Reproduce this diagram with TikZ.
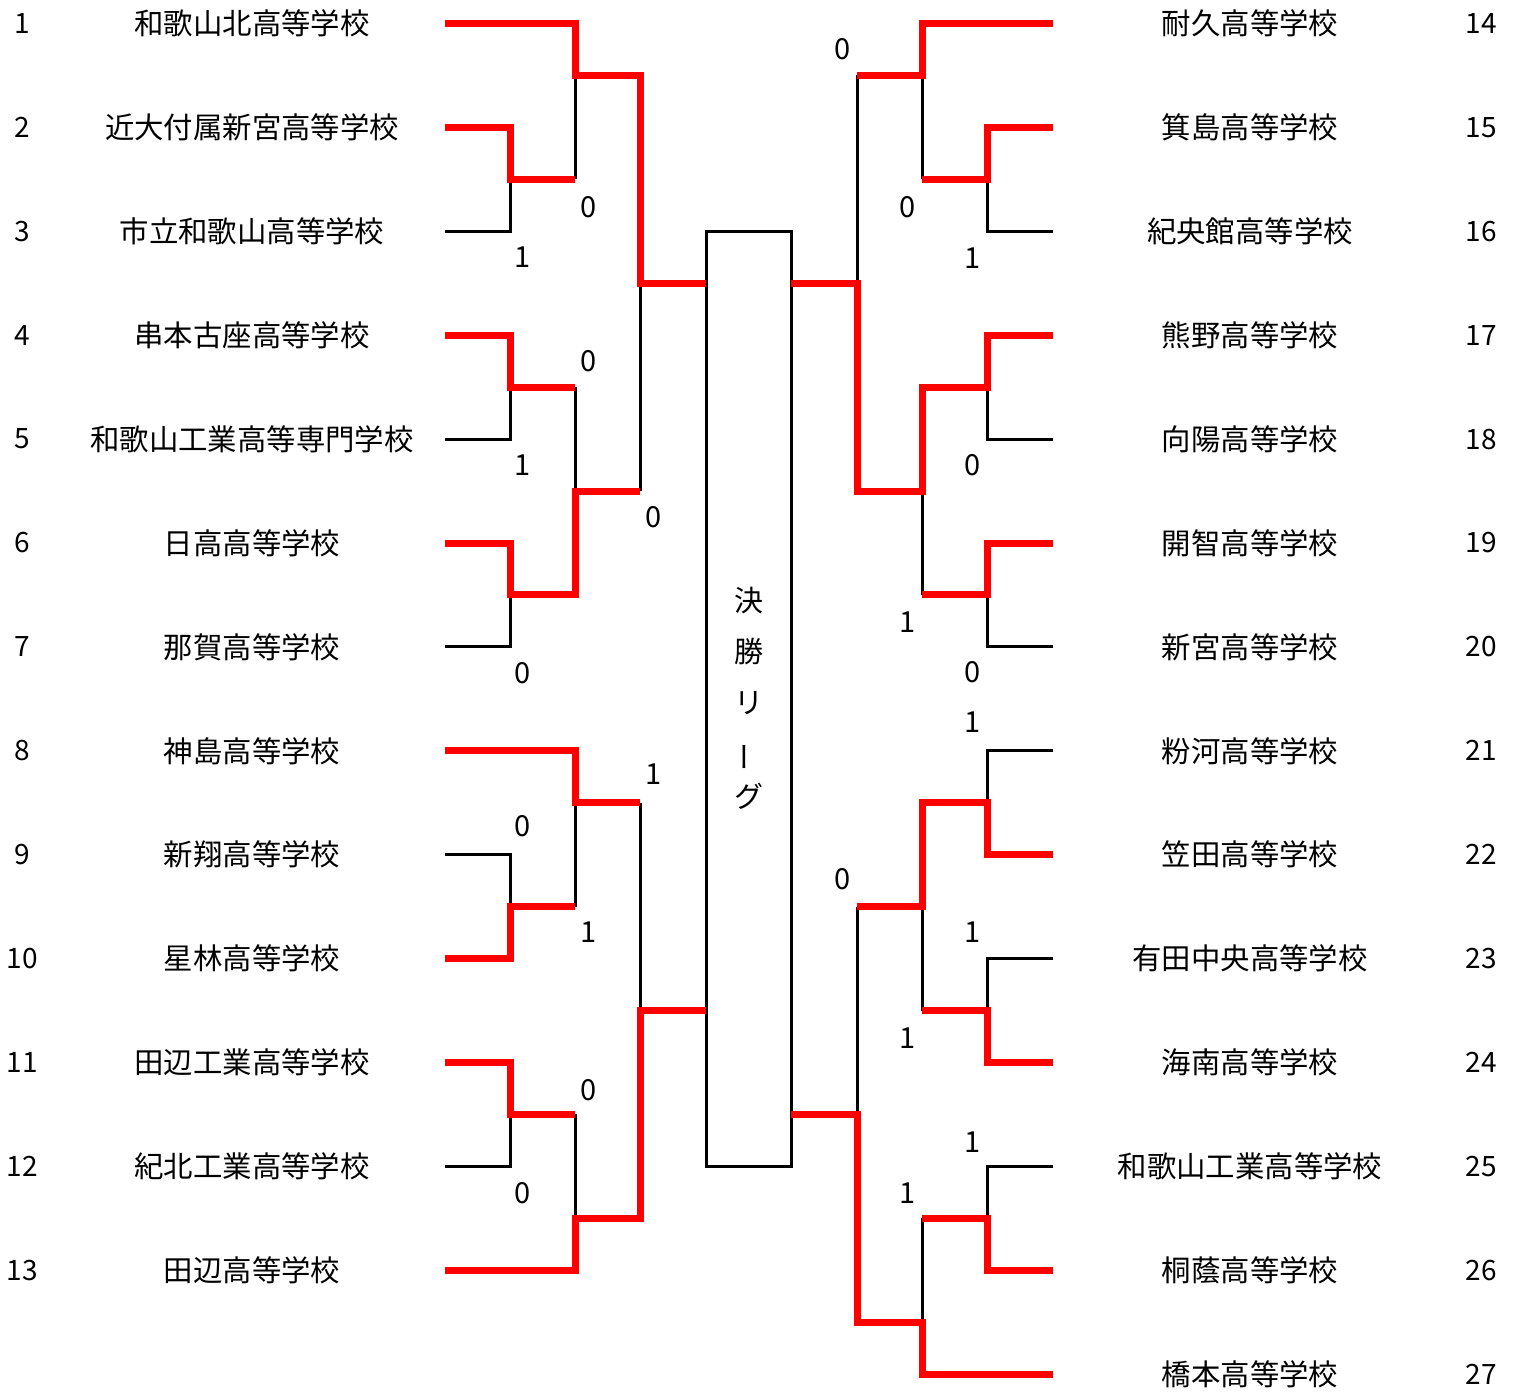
\documentclass[tikz,border=0pt]{standalone}
\usepackage{fontspec}
\setmainfont{Noto Sans CJK JP}
\begin{document}
\begin{tikzpicture}[x=1pt,y=-51.95pt,
  win/.style={draw=red, line width=7pt},
  lose/.style={draw=black, line width=3pt},
  team/.style={font=\fontsize{29.4}{30}\selectfont, inner sep=0pt},
  num/.style={font=\fontsize{28}{30}\selectfont, inner sep=0pt},
  score/.style={font=\fontsize{29}{30}\selectfont, inner sep=0pt},
  vt/.style={font=\fontsize{29}{30}\selectfont, inner sep=0pt}]
\useasboundingbox (0,-0.4524) rectangle (1514,26.3234);

% teams left
\foreach \i/\k/\nm in {1/0/和歌山北高等学校, 2/2/近大付属新宮高等学校, 3/4/市立和歌山高等学校,
  4/6/串本古座高等学校, 5/8/和歌山工業高等専門学校, 6/10/日高高等学校, 7/12/那賀高等学校,
  8/14/神島高等学校, 9/16/新翔高等学校, 10/18/星林高等学校, 11/20/田辺工業高等学校,
  12/22/紀北工業高等学校, 13/24/田辺高等学校}{
  \node[team] (n\i) at (252,\k) {\nm};
  \node[num] (s\i) at (22,\k) {\i};
  \coordinate (t\i) at (445,\k);
}
% teams right
\foreach \i/\k/\nm in {14/0/耐久高等学校, 15/2/箕島高等学校, 16/4/紀央館高等学校,
  17/6/熊野高等学校, 18/8/向陽高等学校, 19/10/開智高等学校, 20/12/新宮高等学校,
  21/14/粉河高等学校, 22/16/笠田高等学校, 23/18/有田中央高等学校, 24/20/海南高等学校,
  25/22/和歌山工業高等学校, 26/24/桐蔭高等学校, 27/26/橋本高等学校}{
  \node[team] (n\i) at (1250,\k) {\nm};
  \node[num] (s\i) at (1481,\k) {\i};
  \coordinate (t\i) at (1053,\k);
}

% final league box
\node[lose, minimum width=85pt, minimum height=935.1pt, inner sep=0pt] (final) at (748.5,13) {};
\node[vt] (v1) at (749,11.116) {決};
\node[vt] (v2) at (749,12.079) {勝};
\node[vt] (v3) at (749,13.08) {リ};
\node[vt] (v4) at (749,14.12) {\rotatebox{90}{ー}};
\node[vt] (v5) at (749,14.87) {グ};

% losing lines (black)
\draw[lose] (t3) -| (510,3);
\draw[lose] (575,3) -- (575,1);
\draw[lose] (t5) -| (510,7);
\draw[lose] (575,7) -- (575,9);
\draw[lose] (t7) -| (510,11);
\draw[lose] (640,9) -- (640,5);
\draw[lose] (t9) -| (510,17);
\draw[lose] (575,17) -- (575,15);
\draw[lose] (640,15) -- (640,19);
\draw[lose] (t12) -| (510,21);
\draw[lose] (575,21) -- (575,23);
\draw[lose] (t16) -| (987,3);
\draw[lose] (922,3) -- (922,1);
\draw[lose] (857,1) -- (857,5);
\draw[lose] (t18) -| (987,7);
\draw[lose] (922,9) -- (922,11);
\draw[lose] (t20) -| (987,11);
\draw[lose] (t21) -| (987,15);
\draw[lose] (t23) -| (987,19);
\draw[lose] (922,19) -- (922,17);
\draw[lose] (857,17) -- (857,21);
\draw[lose] (t25) -| (987,23);
\draw[lose] (922,23) -- (922,25);

% winning lines (red)
\draw[win] (t1) -| (575,1) -- (640,1) -- (640,5) -- (706,5);
\draw[win] (t2) -| (510,3) -- (575,3);
\draw[win] (t4) -| (510,7) -- (575,7);
\draw[win] (t6) -| (510,11) -- (575,11) -- (575,9) -- (640,9);
\draw[win] (t8) -| (575,15) -- (640,15);
\draw[win] (t10) -| (510,17) -- (575,17);
\draw[win] (t11) -| (510,21) -- (575,21);
\draw[win] (t13) -| (575,23) -- (640,23) -- (640,19) -- (706,19);
\draw[win] (t14) -| (922,1) -- (857,1);
\draw[win] (t15) -| (987,3) -- (922,3);
\draw[win] (t17) -| (987,7) -- (922,7) -- (922,9) -- (857,9) -- (857,5) -- (791,5);
\draw[win] (t19) -| (987,11) -- (922,11);
\draw[win] (t22) -| (987,15) -- (922,15) -- (922,17) -- (857,17);
\draw[win] (t24) -| (987,19) -- (922,19);
\draw[win] (t26) -| (987,23) -- (922,23);
\draw[win] (t27) -| (922,25) -- (857,25) -- (857,21) -- (791,21);

% scores
\foreach \x/\k/\s [count=\c] in {523/4.5/1, 589/3.53/0, 589/6.5/0, 523/8.5/1, 654/9.5/0,
  523/12.5/0, 654/14.45/1, 523/15.45/0, 589/17.49/1, 589/20.53/0, 523/22.51/0,
  843/0.49/0, 908/3.53/0, 973/4.51/1, 973/8.5/0, 908/11.52/1, 973/12.48/0,
  973/13.44/1, 843/16.47/0, 973/17.49/1, 908/19.53/1, 973/21.53/1, 908/22.51/1}{
  \node[score] (sc\c) at (\x,\k) {\s};
}
\end{tikzpicture}
\end{document}
